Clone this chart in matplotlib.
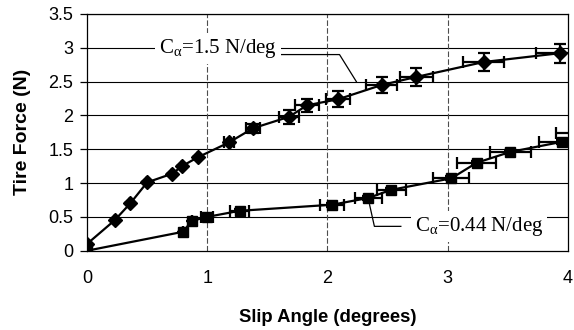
import numpy as np
import matplotlib
matplotlib.use("Agg")
import matplotlib.pyplot as plt

plt.rcParams['font.family'] = ['Liberation Sans', 'DejaVu Sans']
plt.rcParams['mathtext.fontset'] = 'custom'
plt.rcParams['mathtext.rm'] = 'Liberation Serif'
plt.rcParams['mathtext.it'] = 'Liberation Serif'

# upper series (C_alpha = 1.5 N/deg)
hi_x = [0.0, 0.23, 0.36, 0.50, 0.71, 0.79, 0.92, 1.18, 1.38, 1.68, 1.83, 2.09, 2.45, 2.74, 3.30, 3.93]
hi_y = [0.10, 0.45, 0.70, 1.01, 1.14, 1.25, 1.38, 1.60, 1.81, 1.98, 2.15, 2.24, 2.45, 2.57, 2.79, 2.92]
hi_xerr = [0, 0, 0, 0, 0, 0, 0, 0.04, 0.06, 0.08, 0.10, 0.10, 0.13, 0.14, 0.17, 0.20]
hi_yerr = [0, 0, 0, 0, 0, 0, 0, 0.04, 0.07, 0.10, 0.10, 0.12, 0.12, 0.13, 0.14, 0.14]

# lower series (C_alpha = 0.44 N/deg)
lo_x = [0.0, 0.80, 0.87, 1.0, 1.27, 2.04, 2.34, 2.53, 3.03, 3.24, 3.52, 3.95, 4.10]
lo_y = [0.0, 0.28, 0.44, 0.50, 0.59, 0.68, 0.78, 0.90, 1.07, 1.30, 1.46, 1.61, 1.74]
lo_xerr = [0, 0, 0, 0.05, 0.08, 0.10, 0.11, 0.12, 0.15, 0.16, 0.17, 0.19, 0.20]
lo_yerr = [0, 0, 0, 0, 0.02, 0.03, 0.03, 0.03, 0.03, 0.03, 0.03, 0.03, 0.03]

fig = plt.figure(figsize=(5.74, 3.30), dpi=100)
ax = fig.add_axes([0.1516, 0.2403, 0.8379, 0.7173])

ax.set_xlim(0, 4)
ax.set_ylim(0, 3.5)
ax.set_xticks([0, 1, 2, 3, 4])
ax.set_yticks(np.arange(0, 3.51, 0.5))
ax.set_yticklabels(['0', '0.5', '1', '1.5', '2', '2.5', '3', '3.5'])

for y in np.arange(0.5, 3.51, 0.5):
    ax.axhline(y, color='black', lw=0.8, zorder=1)
for x in [1, 2, 3]:
    ax.axvline(x, color='0.3', lw=0.8, ls=(0, (5, 2)), zorder=1)

for s in ax.spines.values():
    s.set_linewidth(0.9)

ax.errorbar(hi_x, hi_y, xerr=hi_xerr, yerr=hi_yerr, color='black', marker='D',
            ms=7, lw=1.6, elinewidth=1.6, capsize=4, capthick=1.6, zorder=3)
ax.errorbar(lo_x, lo_y, xerr=lo_xerr, yerr=lo_yerr, color='black', marker='s',
            ms=7.5, lw=1.6, elinewidth=1.6, capsize=4, capthick=1.6, zorder=3)

# labels with leader lines
lab_font = dict(family='Liberation Serif', fontsize=15, ha='center', va='center', zorder=4,
                bbox=dict(fc='white', ec='none', pad=3))
ax.plot([1.6, 2.1, 2.24], [2.9, 2.9, 2.5], color='black', lw=0.9, zorder=2)
ax.text(1.09, 2.99, r'C$_{\mathrm{\alpha}}$=1.5 N/deg', **lab_font)
ax.plot([2.35, 2.39, 2.61], [0.68, 0.36, 0.36], color='black', lw=0.9, zorder=2)
ax.text(3.26, 0.36, r'C$_{\mathrm{\alpha}}$=0.44 N/deg', **lab_font)

ax.tick_params(axis='y', direction='out', length=5, width=0.9, labelsize=13, pad=5)
ax.tick_params(axis='x', length=0, labelsize=13, pad=14)
ax.set_xlabel('Slip Angle (degrees)', fontsize=13.3, fontweight='bold', labelpad=16)
ax.set_ylabel('Tire Force (N)', fontsize=14, fontweight='bold', labelpad=12)

fig.savefig('out.png', dpi=100)
